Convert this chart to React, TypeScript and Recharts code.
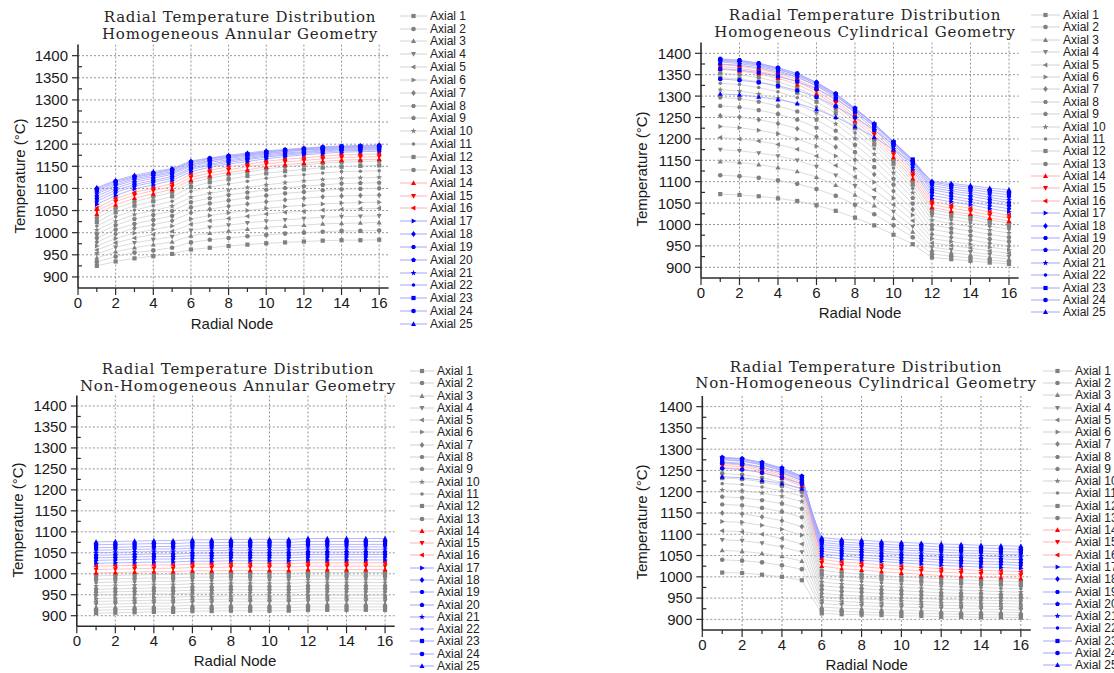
import { CartesianGrid, Label, Legend, Line, LineChart, XAxis, YAxis } from "recharts";

const radialNodes = [1, 2, 3, 4, 5, 6, 7, 8, 9, 10, 11, 12, 13, 14, 15, 16];
const axialNames = [
  "Axial 1", "Axial 2", "Axial 3", "Axial 4", "Axial 5", "Axial 6", "Axial 7", "Axial 8", "Axial 9",
  "Axial 10", "Axial 11", "Axial 12", "Axial 13", "Axial 14", "Axial 15", "Axial 16", "Axial 17",
  "Axial 18", "Axial 19", "Axial 20", "Axial 21", "Axial 22", "Axial 23", "Axial 24", "Axial 25",
];
const xTicks = [0, 1, 2, 3, 4, 5, 6, 7, 8, 9, 10, 11, 12, 13, 14, 15, 16];
const xGridLines = [2, 4, 6, 8, 10, 12, 14, 16];
const yTicks = [900, 925, 950, 975, 1000, 1025, 1050, 1075, 1100, 1125, 1150, 1175, 1200, 1225, 1250, 1275, 1300, 1325, 1350, 1375, 1400];
const yGridLines = [900, 950, 1000, 1050, 1100, 1150, 1200, 1250, 1300, 1350, 1400];

// Homogeneous annular geometry, one row per axial level, radial nodes 1..16
const homAnnular = [
  [925, 935, 942, 947, 952, 962, 966, 970, 973, 976, 978, 980, 982, 983, 983, 984],
  [934, 946, 955, 960, 966, 978, 984, 988, 992, 995, 998, 1000, 1002, 1004, 1004, 1005],
  [943, 957, 966, 973, 979, 993, 999, 1004, 1008, 1012, 1015, 1017, 1020, 1021, 1022, 1023],
  [952, 967, 977, 984, 991, 1005, 1012, 1017, 1022, 1026, 1029, 1032, 1035, 1036, 1037, 1038],
  [961, 977, 988, 996, 1003, 1019, 1027, 1032, 1037, 1042, 1046, 1048, 1051, 1053, 1054, 1055],
  [970, 987, 999, 1007, 1015, 1031, 1039, 1045, 1050, 1055, 1059, 1062, 1065, 1067, 1068, 1069],
  [979, 997, 1010, 1018, 1027, 1045, 1053, 1060, 1065, 1070, 1074, 1078, 1081, 1083, 1084, 1085],
  [988, 1007, 1020, 1029, 1038, 1057, 1066, 1073, 1079, 1084, 1089, 1092, 1096, 1098, 1099, 1100],
  [997, 1017, 1031, 1040, 1049, 1069, 1078, 1085, 1091, 1097, 1101, 1105, 1108, 1111, 1112, 1113],
  [1006, 1026, 1041, 1050, 1060, 1080, 1089, 1096, 1102, 1108, 1113, 1117, 1120, 1123, 1124, 1125],
  [1015, 1036, 1051, 1061, 1071, 1093, 1103, 1110, 1116, 1123, 1128, 1131, 1135, 1138, 1139, 1140],
  [1024, 1046, 1061, 1071, 1082, 1103, 1114, 1121, 1128, 1134, 1139, 1143, 1147, 1149, 1151, 1152],
  [1033, 1055, 1070, 1081, 1091, 1113, 1123, 1131, 1137, 1144, 1149, 1153, 1157, 1159, 1161, 1162],
  [1042, 1063, 1078, 1088, 1098, 1119, 1129, 1136, 1142, 1149, 1154, 1157, 1161, 1164, 1165, 1166],
  [1049, 1070, 1085, 1095, 1104, 1125, 1135, 1142, 1149, 1155, 1160, 1163, 1167, 1170, 1171, 1172],
  [1056, 1077, 1091, 1101, 1111, 1132, 1141, 1149, 1155, 1161, 1166, 1169, 1173, 1176, 1177, 1178],
  [1064, 1084, 1099, 1108, 1118, 1138, 1148, 1155, 1161, 1167, 1172, 1176, 1179, 1182, 1183, 1184],
  [1071, 1091, 1105, 1114, 1123, 1143, 1152, 1159, 1165, 1171, 1175, 1179, 1182, 1185, 1186, 1187],
  [1077, 1096, 1109, 1118, 1127, 1146, 1155, 1162, 1168, 1173, 1178, 1181, 1185, 1187, 1188, 1189],
  [1083, 1101, 1114, 1123, 1132, 1150, 1159, 1165, 1170, 1176, 1180, 1183, 1187, 1189, 1190, 1191],
  [1088, 1106, 1118, 1127, 1135, 1153, 1162, 1168, 1173, 1178, 1183, 1186, 1189, 1191, 1192, 1193],
  [1092, 1109, 1122, 1130, 1138, 1155, 1163, 1170, 1175, 1180, 1184, 1187, 1190, 1192, 1193, 1194],
  [1096, 1113, 1125, 1133, 1141, 1158, 1166, 1172, 1177, 1182, 1186, 1189, 1192, 1194, 1195, 1196],
  [1099, 1116, 1127, 1135, 1143, 1160, 1168, 1173, 1178, 1183, 1187, 1190, 1193, 1195, 1196, 1197],
  [1102, 1118, 1130, 1138, 1145, 1162, 1169, 1175, 1180, 1185, 1188, 1191, 1194, 1196, 1197, 1198],
];

const homCylindrical = [
  [1071, 1069, 1066, 1061, 1055, 1045, 1032, 1016, 998, 976, 954, 923, 919, 915, 911, 908],
  [1115, 1113, 1109, 1103, 1095, 1083, 1067, 1046, 1024, 998, 970, 931, 926, 922, 917, 913],
  [1147, 1145, 1140, 1133, 1124, 1111, 1092, 1069, 1044, 1015, 983, 940, 934, 929, 924, 919],
  [1175, 1172, 1167, 1160, 1150, 1135, 1115, 1090, 1062, 1030, 995, 947, 941, 936, 930, 925],
  [1203, 1200, 1195, 1187, 1176, 1160, 1138, 1111, 1081, 1046, 1009, 957, 951, 945, 938, 933],
  [1229, 1226, 1220, 1212, 1200, 1183, 1160, 1131, 1099, 1062, 1022, 967, 960, 954, 947, 941],
  [1254, 1251, 1245, 1236, 1224, 1205, 1181, 1151, 1117, 1078, 1035, 977, 970, 964, 956, 950],
  [1277, 1274, 1267, 1258, 1245, 1226, 1201, 1169, 1134, 1093, 1049, 989, 981, 974, 966, 960],
  [1297, 1294, 1287, 1277, 1264, 1245, 1219, 1186, 1150, 1107, 1062, 999, 991, 985, 977, 970],
  [1315, 1312, 1305, 1295, 1281, 1261, 1235, 1201, 1164, 1121, 1074, 1010, 1002, 995, 987, 980],
  [1330, 1327, 1320, 1310, 1296, 1275, 1248, 1214, 1177, 1132, 1084, 1020, 1011, 1004, 996, 989],
  [1343, 1340, 1333, 1322, 1308, 1287, 1260, 1225, 1187, 1142, 1093, 1027, 1019, 1012, 1003, 996],
  [1354, 1350, 1343, 1333, 1319, 1298, 1270, 1235, 1196, 1150, 1101, 1035, 1026, 1019, 1010, 1003],
  [1363, 1359, 1352, 1342, 1327, 1306, 1278, 1242, 1203, 1157, 1107, 1040, 1031, 1024, 1015, 1008],
  [1369, 1365, 1358, 1348, 1334, 1312, 1284, 1249, 1210, 1164, 1114, 1047, 1038, 1031, 1022, 1015],
  [1374, 1370, 1363, 1353, 1339, 1318, 1290, 1254, 1216, 1170, 1121, 1054, 1045, 1038, 1029, 1022],
  [1380, 1376, 1369, 1359, 1345, 1324, 1296, 1261, 1222, 1177, 1128, 1061, 1053, 1046, 1037, 1030],
  [1384, 1381, 1374, 1363, 1349, 1328, 1301, 1266, 1228, 1183, 1134, 1068, 1060, 1053, 1044, 1037],
  [1387, 1384, 1377, 1366, 1353, 1332, 1305, 1270, 1233, 1188, 1140, 1075, 1066, 1059, 1051, 1044],
  [1386, 1383, 1376, 1366, 1352, 1332, 1306, 1272, 1235, 1192, 1145, 1081, 1073, 1066, 1058, 1051],
  [1382, 1379, 1372, 1362, 1349, 1330, 1304, 1271, 1236, 1193, 1148, 1086, 1078, 1072, 1063, 1057],
  [1375, 1372, 1366, 1356, 1344, 1325, 1300, 1269, 1235, 1194, 1150, 1091, 1083, 1077, 1069, 1063],
  [1364, 1361, 1355, 1346, 1334, 1317, 1293, 1264, 1231, 1193, 1152, 1096, 1088, 1082, 1075, 1069],
  [1340, 1337, 1332, 1324, 1313, 1298, 1276, 1250, 1221, 1186, 1149, 1099, 1092, 1087, 1080, 1075],
  [1305, 1303, 1298, 1292, 1283, 1269, 1251, 1229, 1204, 1175, 1144, 1101, 1096, 1091, 1085, 1081],
];

const nonHomAnnular = [
  [906, 907, 908, 909, 909, 911, 911, 912, 912, 912, 912, 914, 914, 914, 914, 914],
  [913, 914, 915, 916, 916, 918, 918, 919, 919, 919, 919, 921, 921, 921, 921, 921],
  [920, 921, 922, 923, 923, 925, 925, 926, 926, 926, 926, 928, 928, 928, 928, 928],
  [927, 928, 929, 930, 930, 932, 932, 933, 933, 933, 933, 935, 935, 935, 935, 935],
  [934, 935, 936, 937, 937, 939, 939, 940, 940, 940, 940, 942, 942, 942, 942, 942],
  [941, 942, 943, 944, 944, 946, 946, 947, 947, 947, 947, 949, 949, 949, 949, 949],
  [949, 950, 951, 952, 952, 954, 954, 955, 955, 955, 955, 957, 957, 957, 957, 957],
  [956, 957, 958, 959, 959, 961, 961, 962, 962, 962, 962, 964, 964, 964, 964, 964],
  [963, 964, 965, 966, 966, 968, 968, 969, 969, 969, 969, 971, 971, 971, 971, 971],
  [971, 972, 973, 974, 974, 976, 976, 977, 977, 977, 977, 979, 979, 979, 979, 979],
  [979, 980, 981, 982, 982, 984, 984, 985, 985, 985, 985, 987, 987, 987, 987, 987],
  [987, 988, 989, 990, 990, 992, 992, 993, 993, 993, 993, 995, 995, 995, 995, 995],
  [995, 996, 997, 998, 998, 1000, 1000, 1001, 1001, 1001, 1001, 1003, 1003, 1003, 1003, 1003],
  [1002, 1003, 1004, 1005, 1005, 1007, 1007, 1008, 1008, 1008, 1008, 1010, 1010, 1010, 1010, 1010],
  [1010, 1011, 1012, 1013, 1013, 1015, 1015, 1016, 1016, 1016, 1016, 1018, 1018, 1018, 1018, 1018],
  [1018, 1019, 1020, 1021, 1021, 1023, 1023, 1024, 1024, 1024, 1024, 1026, 1026, 1026, 1026, 1026],
  [1025, 1026, 1027, 1028, 1028, 1030, 1030, 1031, 1031, 1031, 1031, 1033, 1033, 1033, 1033, 1033],
  [1032, 1033, 1034, 1035, 1035, 1037, 1037, 1038, 1038, 1038, 1038, 1040, 1040, 1040, 1040, 1040],
  [1038, 1039, 1040, 1041, 1041, 1043, 1043, 1044, 1044, 1044, 1044, 1046, 1046, 1046, 1046, 1046],
  [1044, 1045, 1046, 1047, 1047, 1049, 1049, 1050, 1050, 1050, 1050, 1052, 1052, 1052, 1052, 1052],
  [1050, 1051, 1052, 1053, 1053, 1055, 1055, 1056, 1056, 1056, 1056, 1058, 1058, 1058, 1058, 1058],
  [1056, 1057, 1058, 1059, 1059, 1061, 1061, 1062, 1062, 1062, 1062, 1064, 1064, 1064, 1064, 1064],
  [1062, 1063, 1064, 1065, 1065, 1067, 1067, 1068, 1068, 1068, 1068, 1070, 1070, 1070, 1070, 1070],
  [1069, 1070, 1071, 1072, 1072, 1074, 1074, 1075, 1075, 1075, 1075, 1077, 1077, 1077, 1077, 1077],
  [1076, 1077, 1078, 1079, 1079, 1081, 1081, 1082, 1082, 1082, 1082, 1084, 1084, 1084, 1084, 1084],
];

const nonHomCylindrical = [
  [1010, 1009, 1005, 1000, 992, 914, 912, 911, 910, 908, 908, 906, 906, 905, 905, 904],
  [1040, 1038, 1034, 1027, 1018, 921, 919, 917, 916, 915, 914, 913, 912, 911, 911, 910],
  [1062, 1060, 1055, 1048, 1037, 929, 926, 925, 923, 922, 921, 919, 918, 918, 917, 916],
  [1087, 1085, 1079, 1070, 1058, 937, 934, 932, 930, 929, 927, 926, 925, 924, 923, 922],
  [1108, 1106, 1100, 1090, 1077, 945, 942, 940, 938, 936, 935, 933, 932, 931, 930, 929],
  [1130, 1128, 1121, 1112, 1098, 953, 950, 948, 946, 944, 942, 940, 939, 938, 937, 936],
  [1150, 1148, 1141, 1132, 1118, 961, 957, 955, 953, 951, 949, 947, 946, 945, 944, 943],
  [1170, 1168, 1162, 1153, 1140, 970, 966, 964, 961, 959, 957, 955, 954, 952, 951, 950],
  [1188, 1186, 1180, 1172, 1160, 979, 975, 972, 969, 967, 965, 962, 961, 960, 958, 957],
  [1204, 1202, 1197, 1189, 1177, 988, 983, 980, 977, 975, 973, 970, 968, 967, 965, 964],
  [1219, 1217, 1211, 1202, 1190, 997, 992, 989, 986, 983, 981, 978, 976, 975, 973, 972],
  [1232, 1230, 1223, 1214, 1200, 1006, 1001, 998, 995, 992, 989, 986, 985, 983, 982, 980],
  [1243, 1240, 1233, 1222, 1207, 1015, 1010, 1006, 1003, 1000, 998, 995, 993, 991, 990, 988],
  [1257, 1254, 1245, 1232, 1213, 1025, 1019, 1016, 1012, 1009, 1006, 1003, 1001, 999, 998, 996],
  [1262, 1259, 1250, 1237, 1218, 1033, 1027, 1024, 1020, 1017, 1014, 1011, 1009, 1007, 1006, 1004],
  [1266, 1263, 1254, 1241, 1222, 1041, 1035, 1032, 1028, 1025, 1022, 1019, 1017, 1015, 1014, 1012],
  [1270, 1267, 1258, 1245, 1226, 1048, 1042, 1039, 1036, 1033, 1030, 1027, 1025, 1023, 1022, 1020],
  [1275, 1272, 1263, 1249, 1230, 1054, 1049, 1045, 1042, 1039, 1037, 1034, 1032, 1030, 1029, 1027],
  [1279, 1276, 1267, 1253, 1234, 1060, 1055, 1051, 1048, 1045, 1043, 1040, 1038, 1036, 1035, 1033],
  [1281, 1278, 1269, 1256, 1237, 1066, 1061, 1058, 1055, 1052, 1049, 1046, 1045, 1043, 1042, 1040],
  [1280, 1277, 1268, 1255, 1236, 1071, 1066, 1063, 1060, 1057, 1055, 1052, 1050, 1049, 1047, 1046],
  [1276, 1273, 1264, 1251, 1233, 1076, 1071, 1068, 1065, 1063, 1061, 1058, 1056, 1055, 1053, 1052],
  [1268, 1265, 1257, 1245, 1227, 1081, 1076, 1074, 1071, 1068, 1066, 1064, 1062, 1061, 1059, 1058],
  [1255, 1252, 1245, 1234, 1218, 1086, 1082, 1079, 1077, 1074, 1073, 1070, 1069, 1068, 1066, 1065],
  [1235, 1233, 1227, 1219, 1207, 1092, 1088, 1086, 1083, 1081, 1079, 1077, 1076, 1074, 1073, 1072],
];

const sans = "'Liberation Sans', Arial, sans-serif";
const serif = "'DejaVu Serif', serif";
const axisColor = "#2b2b2b";

// Origin-style symbol cycle (11 shapes)
const shapes = ["square", "circle", "up", "down", "left", "right", "diamond", "hexagon", "pentagon", "star", "dot"];
const unitShapes: Record<string, number[][]> = {
  up: [[0, -1.3], [1.2, 0.9], [-1.2, 0.9]],
  down: [[0, 1.3], [1.2, -0.9], [-1.2, -0.9]],
  left: [[-1.3, 0], [0.9, -1.2], [0.9, 1.2]],
  right: [[1.3, 0], [-0.9, -1.2], [-0.9, 1.2]],
  diamond: [[0, -1.4], [1.1, 0], [0, 1.4], [-1.1, 0]],
  hexagon: [[1.15, 0], [0.58, 1], [-0.58, 1], [-1.15, 0], [-0.58, -1], [0.58, -1]],
  pentagon: [[0, -1.2], [1.14, -0.37], [0.7, 0.97], [-0.7, 0.97], [-1.14, -0.37]],
  star: [[0, -1.5], [0.35, -0.5], [1.4, -0.45], [0.55, 0.2], [0.88, 1.2], [0, 0.6], [-0.88, 1.2], [-0.55, 0.2], [-1.4, -0.45], [-0.35, -0.5]],
};

const markerColor = (i: number) => (i < 13 ? "#808080" : i < 16 ? "#ff0000" : "#0000ff");
const lineColor = (i: number) => (i < 13 ? "#d2d2d2" : i < 16 ? "#ffb2b2" : "#a4a4ff");

function symbol(i: number, x: number, y: number, key?: string | number) {
  const shape = shapes[i % shapes.length];
  const color = markerColor(i);
  const s = 2.1;
  if (shape === "square") return <rect key={key} x={x - s} y={y - s} width={2 * s} height={2 * s} fill={color} />;
  if (shape === "circle") return <circle key={key} cx={x} cy={y} r={s * 1.1} fill={color} />;
  if (shape === "dot") return <circle key={key} cx={x} cy={y} r={s * 0.85} fill={color} />;
  const pts = unitShapes[shape].map(([dx, dy]) => `${x + dx * s},${y + dy * s}`).join(" ");
  return <polygon key={key} points={pts} fill={color} />;
}

const renderXTick = (props: any) => {
  const { x, y, payload } = props;
  const major = payload.value % 2 === 0;
  return (
    <g>
      <line x1={x} x2={x} y1={y} y2={y + (major ? 7 : 4)} stroke={axisColor} strokeWidth={1.2} />
      {major && (
        <text x={x} y={y + 19.5} textAnchor="middle" fontSize={15} fontFamily={sans} fill="#1a1a1a">
          {payload.value}
        </text>
      )}
    </g>
  );
};

const renderYTick = (props: any) => {
  const { x, y, payload } = props;
  const major = payload.value % 50 === 0;
  return (
    <g>
      {major ? (
        <line x1={x - 6} x2={x} y1={y} y2={y} stroke={axisColor} strokeWidth={1.2} />
      ) : (
        <line x1={x} x2={x + 4} y1={y} y2={y} stroke={axisColor} strokeWidth={1.2} />
      )}
      {major && (
        <text x={x - 10} y={y + 5.4} textAnchor="end" fontSize={15} fontFamily={sans} fill="#1a1a1a">
          {payload.value}
        </text>
      )}
    </g>
  );
};

type LegendCfg = { left: number; top: number; rowH: number; lineW: number };

function LegendBox({ cfg }: { cfg: LegendCfg }) {
  return (
    <div style={{ fontFamily: sans, fontSize: 12, color: "#222", lineHeight: 1 }}>
      {axialNames.map((name, i) => (
        <div key={name} style={{ height: cfg.rowH, display: "flex", alignItems: "center", whiteSpace: "nowrap" }}>
          <svg width={cfg.lineW} height={8} style={{ flex: "none" }}>
            <line x1={0} x2={cfg.lineW} y1={4} y2={4} stroke={lineColor(i)} strokeWidth={1} />
            {symbol(i, cfg.lineW / 2, 4)}
          </svg>
          <span style={{ marginLeft: 3 }}>{name}</span>
        </div>
      ))}
    </div>
  );
}

type PanelCfg = {
  key: string;
  temps: number[][];
  left: number;
  top: number;
  width: number;
  height: number;
  plotLeft: number;
  plotTop: number;
  plotRight: number;
  plotBottom: number;
  xLabel: [number, number];
  yLabel: [number, number];
  legend: LegendCfg;
};

const panels: PanelCfg[] = [
  {
    key: "ha", temps: homAnnular, left: 0, top: 0, width: 560, height: 340,
    plotLeft: 78, plotTop: 44.6, plotRight: 388.6, plotBottom: 288,
    xLabel: [232, 328.5], yLabel: [20, 176],
    legend: { left: 400, top: 9.3, rowH: 12.85, lineW: 27 },
  },
  {
    key: "hc", temps: homCylindrical, left: 620, top: 0, width: 494, height: 340,
    plotLeft: 81, plotTop: 42.6, plotRight: 398.6, plotBottom: 278,
    xLabel: [240, 317.5], yLabel: [21.7, 169],
    legend: { left: 411, top: 8.8, rowH: 12.4, lineW: 29 },
  },
  {
    key: "nha", temps: nonHomAnnular, left: 0, top: 340, width: 560, height: 333,
    plotLeft: 76.8, plotTop: 55.5, plotRight: 394.7, plotBottom: 286.2,
    xLabel: [235, 325.5], yLabel: [18, 180],
    legend: { left: 410, top: 24.8, rowH: 12.3, lineW: 24 },
  },
  {
    key: "nhc", temps: nonHomCylindrical, left: 620, top: 340, width: 494, height: 333,
    plotLeft: 82.3, plotTop: 56, plotRight: 410.8, plotBottom: 290,
    xLabel: [246.7, 329.5], yLabel: [21.7, 182],
    legend: { left: 423, top: 24.6, rowH: 12.27, lineW: 29 },
  },
];

const titles = [
  { cx: 240, y1: 21.7, y2: 39.3, sub: "Homogeneous Annular Geometry" },
  { cx: 865, y1: 20, y2: 36.7, sub: "Homogeneous Cylindrical Geometry" },
  { cx: 238, y1: 374, y2: 390.5, sub: "Non-Homogeneous Annular Geometry" },
  { cx: 866, y1: 371.5, y2: 388.2, sub: "Non-Homogeneous Cylindrical Geometry" },
];

function Panel({ cfg }: { cfg: PanelCfg }) {
  const rows = radialNodes.map((node, n) => {
    const row: Record<string, number> = { node };
    cfg.temps.forEach((series, s) => {
      row[`a${s + 1}`] = series[n];
    });
    return row;
  });

  return (
    <LineChart
      width={cfg.width}
      height={cfg.height}
      data={rows}
      margin={{ top: cfg.plotTop, right: cfg.width - cfg.plotRight, bottom: 0, left: 0 }}
    >
      <CartesianGrid
        horizontalValues={yGridLines}
        verticalValues={xGridLines}
        stroke="#8a8a8a"
        strokeDasharray="2 2"
        strokeWidth={0.9}
      />
      <XAxis
        dataKey="node"
        type="number"
        domain={[0, 16.5]}
        ticks={xTicks}
        interval={0}
        height={cfg.height - cfg.plotBottom}
        tickSize={0}
        tickMargin={0}
        tickLine={false}
        tick={renderXTick}
        axisLine={{ stroke: axisColor, strokeWidth: 1.6 }}
      >
        <Label
          content={() => (
            <text x={cfg.xLabel[0]} y={cfg.xLabel[1]} textAnchor="middle" fontSize={15} fontFamily={sans} fill="#1a1a1a">
              Radial Node
            </text>
          )}
        />
      </XAxis>
      <YAxis
        type="number"
        domain={[875, 1425]}
        ticks={yTicks}
        interval={0}
        width={cfg.plotLeft}
        tickSize={0}
        tickMargin={0}
        tickLine={false}
        tick={renderYTick}
        axisLine={{ stroke: axisColor, strokeWidth: 1.6 }}
      >
        <Label
          content={() => (
            <text
              x={cfg.yLabel[0]}
              y={cfg.yLabel[1]}
              dy="0.35em"
              transform={`rotate(-90, ${cfg.yLabel[0]}, ${cfg.yLabel[1]})`}
              textAnchor="middle"
              fontSize={15}
              fontFamily={sans}
              fill="#1a1a1a"
            >
              Temperature (°C)
            </text>
          )}
        />
      </YAxis>
      {axialNames.map((name, i) => (
        <Line
          key={name}
          name={name}
          dataKey={`a${i + 1}`}
          type="linear"
          stroke={lineColor(i)}
          strokeWidth={0.8}
          dot={(p: any) => symbol(i, p.cx, p.cy, `${name}-${p.index}`)}
          activeDot={false}
          isAnimationActive={false}
        />
      ))}
      <Legend
        layout="vertical"
        align="center"
        verticalAlign="middle"
        wrapperStyle={{ left: cfg.legend.left, top: cfg.legend.top, width: 130, height: cfg.legend.rowH * 25 }}
        content={() => <LegendBox cfg={cfg.legend} />}
      />
    </LineChart>
  );
}

export default function App() {
  return (
    <div
      style={{
        position: "absolute",
        left: 0,
        top: 0,
        width: 1114,
        height: 673,
        overflow: "hidden",
        background: "#fff",
      }}
    >
      {panels.map((cfg) => (
        <div key={cfg.key} style={{ position: "absolute", left: cfg.left, top: cfg.top }}>
          <Panel cfg={cfg} />
        </div>
      ))}
      <svg width={1114} height={673} style={{ position: "absolute", left: 0, top: 0, pointerEvents: "none" }}>
        {titles.map((t) => (
          <g key={t.sub} fontFamily={serif} fontSize={15} fill="#262626" textAnchor="middle" letterSpacing={0.8}>
            <text x={t.cx} y={t.y1}>Radial Temperature Distribution</text>
            <text x={t.cx} y={t.y2}>{t.sub}</text>
          </g>
        ))}
      </svg>
    </div>
  );
}
